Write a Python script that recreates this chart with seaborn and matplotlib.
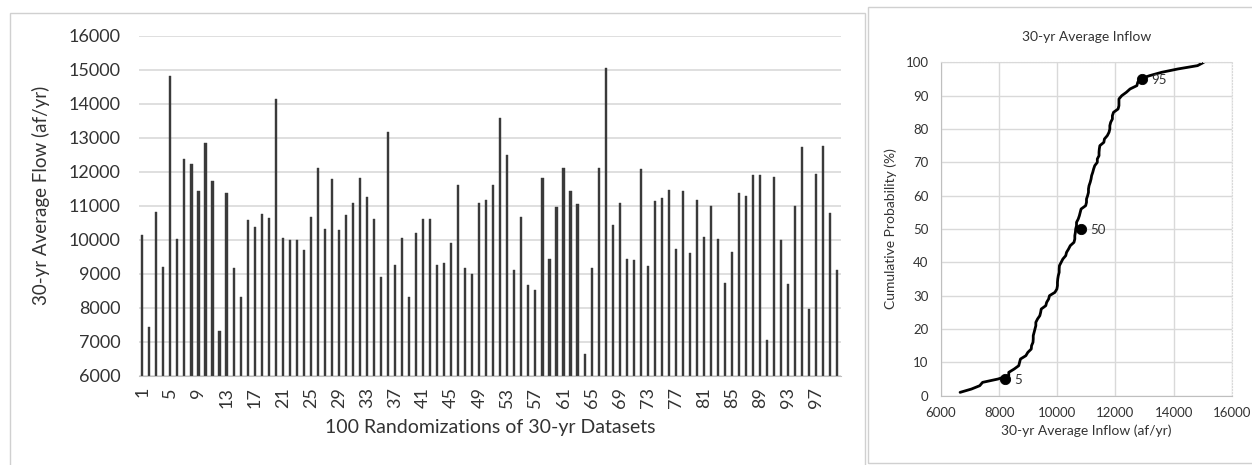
import numpy as np
import pandas as pd
import seaborn as sns
import matplotlib.pyplot as plt
from matplotlib.patches import Rectangle

# 30-yr average flow for each of the 100 randomized datasets (af/yr)
flows = [10133, 7430, 10819, 9203, 14825, 10016, 12376, 12219, 11446, 12836,
         11720, 7332, 11377, 9173, 8331, 10574, 10388, 10760, 10633, 14149,
         10065, 9986, 10006, 9702, 10662, 12121, 10319, 11779, 10290, 10721,
         11073, 11808, 11250, 10603, 8919, 13179, 9262, 10065, 8331, 10192,
         10603, 10623, 9262, 9320, 9918, 11622, 9164, 8987, 11093, 11181,
         11602, 13591, 12503, 9115, 10662, 8674, 8517, 11808, 9428, 10976,
         12121, 11436, 11044, 6656, 9173, 12121, 15040, 10447, 11073, 9448,
         9399, 12092, 9232, 11132, 11220, 11465, 9732, 11436, 9604, 11162,
         10074, 11005, 10035, 8733, 9634, 11377, 11289, 11896, 11896, 7048,
         11837, 10006, 8703, 11005, 12738, 7959, 11935, 12768, 10789, 9105]
runs = [str(i) for i in range(1, 101)]

# labelled percentiles on the cumulative curve
pct_marks = [5, 50, 95]
pct_vals = [8200, 10800, 12900]

df = pd.DataFrame({"run": runs, "flow": flows})
cdf = pd.DataFrame({"flow": np.sort(flows), "prob": np.arange(1, 101)})

sns.set_style("white")
plt.rcParams["font.family"] = ["Lato", "DejaVu Sans"]
txt = "#333333"
grid = "#d9d9d9"

W, H = 1252, 465
fig = plt.figure(figsize=(W / 100, H / 100), dpi=100)

# panel frames
fig.patches.append(Rectangle((10 / W, -0.05), 855 / W, (H - 13) / H + 0.05,
                             transform=fig.transFigure, fill=False,
                             ec="#d0d0d0", lw=1))
fig.patches.append(Rectangle((868 / W, 2 / H), 400 / W, (H - 9) / H,
                             transform=fig.transFigure, fill=False,
                             ec="#d0d0d0", lw=1))

# ---- left: bar chart ----
ax1 = fig.add_axes([138.8 / W, (H - 376) / H, 702 / W, 340.3 / H])
sns.barplot(data=df, x="run", y="flow", order=runs, color="#3a3a3a",
            width=0.3, saturation=1, edgecolor="#3a3a3a", linewidth=0.3,
            ax=ax1)
ax1.set_ylim(6000, 16000)
ax1.set_xlim(-0.5, 99.5)
ax1.set_yticks(range(6000, 16001, 1000))
ax1.yaxis.grid(True, color=grid, lw=1.2)
ax1.set_axisbelow(True)
ax1.set_xticks(range(0, 100, 4))
ax1.set_xticklabels(runs[::4], rotation=90)
ax1.set_xticks(np.arange(-0.5, 100, 1), minor=True)
ax1.tick_params(axis="x", which="major", length=0, pad=8, labelsize=13,
                colors=txt)
ax1.tick_params(axis="x", which="minor", length=4, color="#bfbfbf", width=0.8)
ax1.tick_params(axis="y", length=0, pad=13, labelsize=13, colors=txt)
for s in ["left", "right", "top"]:
    ax1.spines[s].set_visible(False)
ax1.spines["bottom"].set_color("#bfbfbf")
ax1.set_xlabel("100 Randomizations of 30-yr Datasets", fontsize=14,
               color=txt, labelpad=8)
ax1.set_ylabel("30-yr Average Flow (af/yr)", fontsize=13.5, color=txt)
ax1.yaxis.set_label_coords(-0.127, 0.53)

# ---- right: cumulative probability ----
ax2 = fig.add_axes([941 / W, (H - 395.7) / H, 290.7 / W, 333.4 / H])
sns.lineplot(data=cdf, x="flow", y="prob", sort=False, estimator=None,
             color="black", lw=2, ax=ax2)
sns.scatterplot(x=pct_vals, y=pct_marks, color="black", s=55,
                edgecolor="black", zorder=5, ax=ax2)
for v, p in zip(pct_vals, pct_marks):
    ax2.annotate(str(p), (v, p), xytext=(7, -1), textcoords="offset points",
                 va="center", fontsize=9.5, color=txt)
ax2.set_xlim(6000, 16000)
ax2.set_ylim(0, 100)
ax2.set_xticks(range(6000, 16001, 2000))
ax2.set_yticks(range(0, 101, 10))
ax2.grid(True, color=grid, lw=1)
ax2.set_axisbelow(True)
ax2.tick_params(length=0, labelsize=9.5, colors=txt)
ax2.tick_params(axis="y", pad=9)
ax2.tick_params(axis="x", pad=8)
for s in ["right", "top"]:
    ax2.spines[s].set_color(grid)
    ax2.spines[s].set_linestyle(":")
for s in ["left", "bottom"]:
    ax2.spines[s].set_color("#bfbfbf")
ax2.set_title("30-yr Average Inflow", fontsize=10, color=txt, pad=15)
ax2.set_xlabel("30-yr Average Inflow (af/yr)", fontsize=10, color=txt,
               labelpad=4)
ax2.set_ylabel("Cumulative Probability (%)", fontsize=10, color=txt,
               labelpad=6)

fig.savefig("out.png", dpi=100)
